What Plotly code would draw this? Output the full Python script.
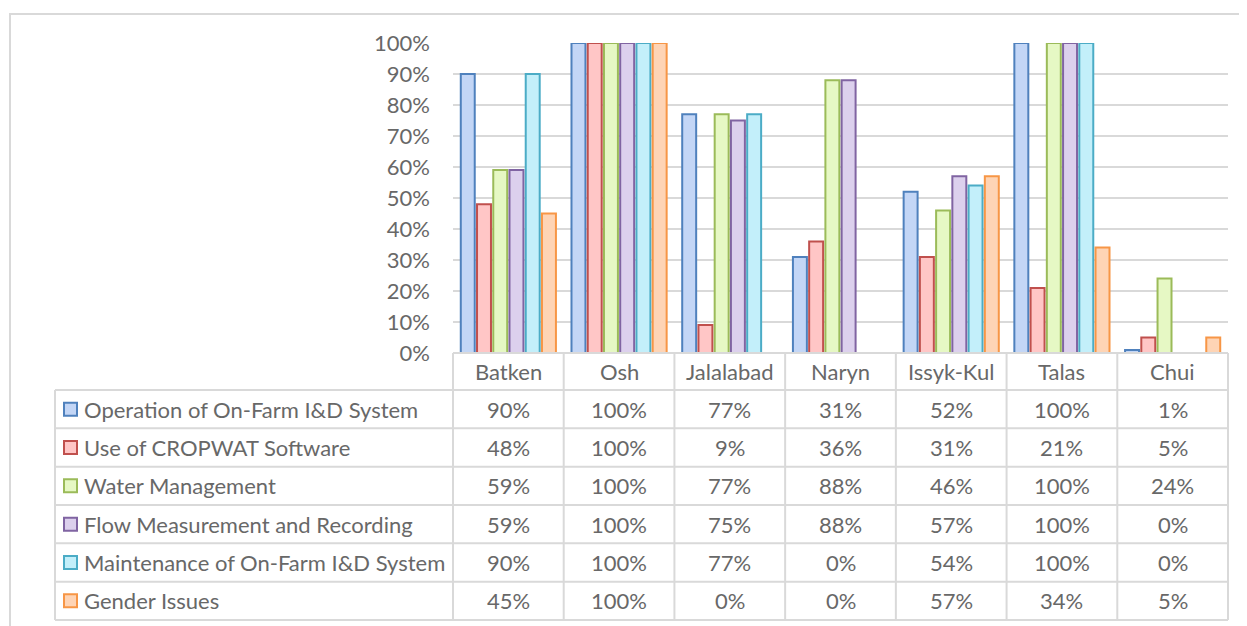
import plotly.graph_objects as go

categories = ["Batken", "Osh", "Jalalabad", "Naryn", "Issyk-Kul", "Talas", "Chui"]
series_names = [
    "Operation of On-Farm I&D System",
    "Use of CROPWAT Software",
    "Water Management",
    "Flow Measurement and Recording",
    "Maintenance of On-Farm I&D System",
    "Gender Issues",
]
operation = [90, 100, 77, 31, 52, 100, 1]
cropwat = [48, 100, 9, 36, 31, 21, 5]
water_mgmt = [59, 100, 77, 88, 46, 100, 24]
flow_meas = [59, 100, 75, 88, 57, 100, 0]
maintenance = [90, 100, 77, 0, 54, 100, 0]
gender = [45, 100, 0, 0, 57, 34, 5]
series_values = [operation, cropwat, water_mgmt, flow_meas, maintenance, gender]
y_ticks = [0, 10, 20, 30, 40, 50, 60, 70, 80, 90, 100]

line_colors = ["#4F81BD", "#C0504D", "#9BBB59", "#8064A2", "#4BACC6", "#F79646"]
fill_colors = ["#C3D6F6", "#FFC6C6", "#E6F8C4", "#DCD0ED", "#C3EFFA", "#FED4B5"]

TXT = "#686868"
GRID = "#D9D9D9"
FONT = "Lato"
FS = 22

OFF = 8  # page body margin
W, H = 1247 - OFF, 626 - OFF
L, T = 453 - OFF, 43 - OFF
R = W - (1228 - OFF)
B = H - (353 - OFF)
PW = W - L - R
PH = H - T - B

def px_x(px):
    return (px - OFF - L) / PW

def px_y(py):
    return (H - B - (py - OFF)) / PH

fig = go.Figure()
for name, vals, lc, fc in zip(series_names, series_values, line_colors, fill_colors):
    fig.add_trace(go.Bar(
        x=categories,
        y=[v if v > 0 else None for v in vals],
        name=name,
        marker=dict(color=fc, line=dict(color=lc, width=2)),
        showlegend=False,
    ))

shapes = []
annotations = []

# outer frame
shapes.append(dict(type="rect", xref="paper", yref="paper",
                   x0=px_x(10), x1=px_x(1280), y0=px_y(660), y1=px_y(14),
                   line=dict(color=GRID, width=2), layer="below"))

# data table geometry
axis_y = 353
row_top = 390
row_h = 38.33
n_rows = len(series_names)
table_left = 55
bottom = row_top + n_rows * row_h
ncat = len(categories)

shapes.append(dict(type="line", xref="paper", yref="paper",
                   x0=0, x1=1, y0=px_y(axis_y), y1=px_y(axis_y),
                   line=dict(color=GRID, width=2)))
for i in range(n_rows + 1):
    yy = px_y(row_top + i * row_h)
    shapes.append(dict(type="line", xref="paper", yref="paper",
                       x0=px_x(table_left), x1=1, y0=yy, y1=yy,
                       line=dict(color=GRID, width=2)))
shapes.append(dict(type="line", xref="paper", yref="paper",
                   x0=px_x(table_left), x1=px_x(table_left),
                   y0=px_y(row_top), y1=px_y(bottom),
                   line=dict(color=GRID, width=2)))
for k in range(ncat + 1):
    xx = k / ncat
    shapes.append(dict(type="line", xref="paper", yref="paper",
                       x0=xx, x1=xx, y0=px_y(axis_y), y1=px_y(bottom),
                       line=dict(color=GRID, width=2)))

font = dict(family=FONT, size=FS, color=TXT)

for k, c in enumerate(categories):
    annotations.append(dict(xref="paper", yref="paper",
                            x=(k + 0.5) / ncat, y=px_y((axis_y + row_top) / 2),
                            xanchor="center", yanchor="middle",
                            text=c, showarrow=False, font=font))

for i, (name, vals, lc, fc) in enumerate(zip(series_names, series_values, line_colors, fill_colors)):
    cy = row_top + (i + 0.5) * row_h
    shapes.append(dict(type="rect", xref="paper", yref="paper",
                       x0=px_x(64), x1=px_x(77), y0=px_y(cy + 6.5), y1=px_y(cy - 6.5),
                       fillcolor=fc, line=dict(color=lc, width=2)))
    annotations.append(dict(xref="paper", yref="paper", x=px_x(82), y=px_y(cy),
                            xanchor="left", yanchor="middle",
                            text=name, showarrow=False, font=font))
    for k, v in enumerate(vals):
        annotations.append(dict(xref="paper", yref="paper",
                                x=(k + 0.5) / ncat, y=px_y(cy),
                                xanchor="center", yanchor="middle",
                                text=f"{v}%", showarrow=False, font=font))

fig.update_layout(
    width=W, height=H,
    margin=dict(l=L, r=R, t=T, b=B, pad=0),
    paper_bgcolor="white", plot_bgcolor="white",
    barmode="group", bargap=0.12, bargroupgap=0.14,
    shapes=shapes, annotations=annotations,
    xaxis=dict(showticklabels=False, showgrid=False, zeroline=False,
               showline=False, ticks=""),
    yaxis=dict(range=[0, 100], tickvals=y_ticks,
               ticktext=[f"{t}%" for t in y_ticks],
               showgrid=True, gridcolor=GRID, gridwidth=2,
               zeroline=False, showline=False, ticks="",
               ticklabelstandoff=22,
               tickfont=font),
)

fig.write_html("out.html")
